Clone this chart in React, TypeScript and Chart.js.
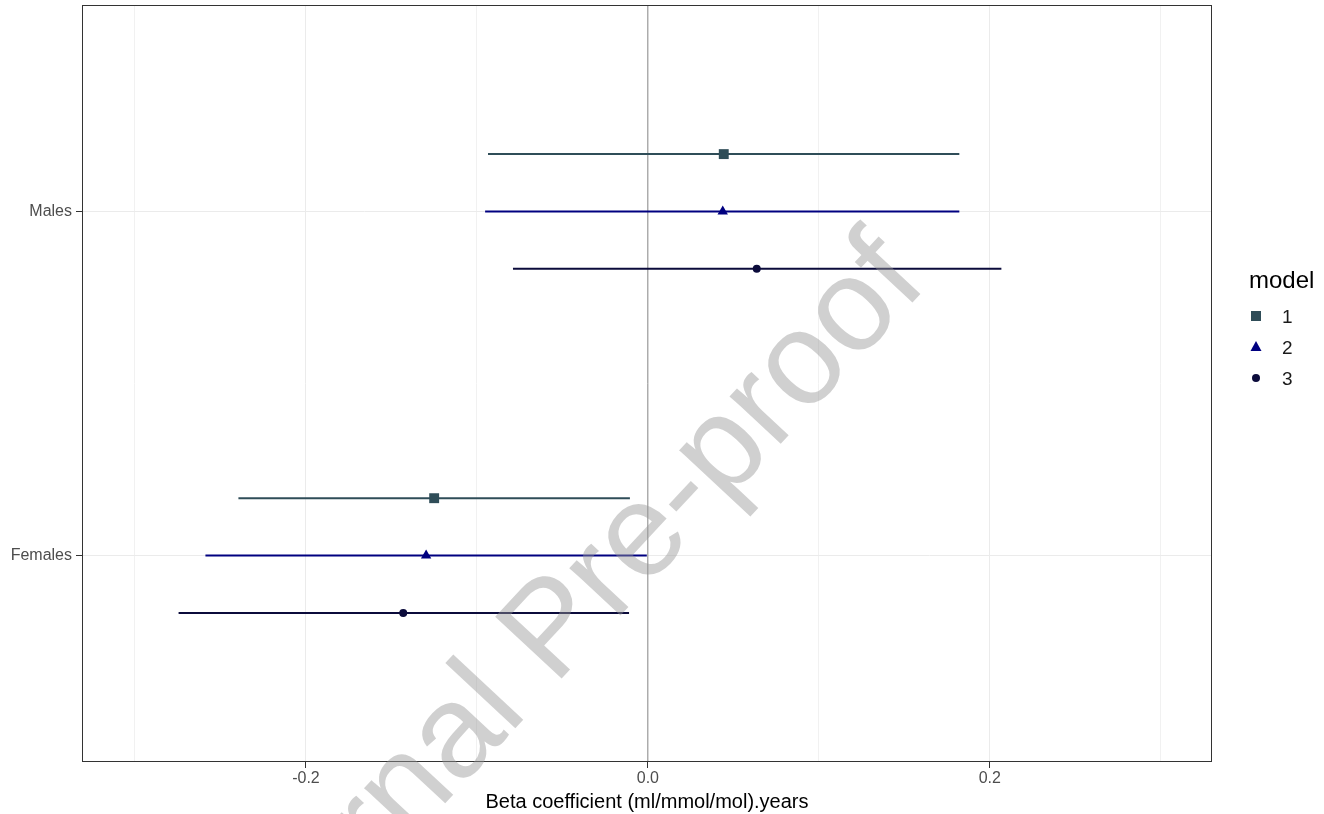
import React, { useEffect, useRef } from "react";
import { Chart, registerables } from "chart.js";

Chart.register(...registerables);

// ---- data ----
const groups = ["Males", "Females"];
const groupPos = [2, 1];
const models = ["1", "2", "3"];
const modelColors = ["#2f4d58", "#000080", "#0b0b3b"];
const modelShapes = ["rect", "triangle", "circle"];
const modelRadius = [7, 6, 4];
const modelDodge = [1 / 6, 0, -1 / 6];

const est1 = [0.0444, -0.125];
const lo1 = [-0.0935, -0.2395];
const hi1 = [0.1822, -0.0105];

const est2 = [0.0438, -0.1297];
const lo2 = [-0.0952, -0.2588];
const hi2 = [0.1822, -0.0006];

const est3 = [0.0637, -0.1431];
const lo3 = [-0.0789, -0.2745];
const hi3 = [0.2068, -0.011];

const xTicks = [-0.3, -0.2, -0.1, 0, 0.1, 0.2, 0.3];
const xLabelled = [-0.2, 0, 0.2];
const xTitle = "Beta coefficient (ml/mmol/mol).years";
const legendTitle = "model";
const watermark = "Journal Pre-proof";

const FONT = "'Liberation Sans', Arial, Helvetica, sans-serif";

function drawMarker(ctx: CanvasRenderingContext2D, shape: string, x: number, y: number) {
  ctx.beginPath();
  if (shape === "rect") {
    ctx.rect(x - 5, y - 5, 10, 10);
  } else if (shape === "triangle") {
    ctx.moveTo(x, y - 6);
    ctx.lineTo(x + 5.5, y + 4);
    ctx.lineTo(x - 5.5, y + 4);
    ctx.closePath();
  } else {
    ctx.arc(x, y, 4, 0, Math.PI * 2);
  }
  ctx.fill();
}

export default function App() {
  const ref = useRef<HTMLCanvasElement | null>(null);

  useEffect(() => {
    const canvas = ref.current;
    if (!canvas) return;

    const ests = [est1, est2, est3];
    const los = [lo1, lo2, lo3];
    const his = [hi1, hi2, hi3];

    const datasets: any[] = [];
    datasets.push({
      type: "line",
      data: [
        { x: 0, y: 0.4 },
        { x: 0, y: 2.6 },
      ],
      borderColor: "#8c8c8c",
      borderWidth: 1,
      pointRadius: 0,
      order: 10,
    });
    models.forEach((m, mi) => {
      groups.forEach((g, gi) => {
        const y = groupPos[gi] + modelDodge[mi];
        datasets.push({
          type: "line",
          data: [
            { x: los[mi][gi], y },
            { x: his[mi][gi], y },
          ],
          borderColor: modelColors[mi],
          borderWidth: 2,
          pointRadius: 0,
          order: 5,
        });
      });
    });
    models.forEach((m, mi) => {
      datasets.push({
        type: "scatter",
        label: m,
        data: groups.map((g, gi) => ({ x: ests[mi][gi], y: groupPos[gi] + modelDodge[mi] })),
        backgroundColor: modelColors[mi],
        borderColor: modelColors[mi],
        borderWidth: 0,
        pointStyle: modelShapes[mi],
        pointRadius: modelRadius[mi],
        order: 1,
      });
    });

    const frame = {
      id: "frame",
      afterDatasetsDraw(chart: any) {
        const { ctx, chartArea: a } = chart;
        ctx.save();
        ctx.strokeStyle = "#333333";
        ctx.lineWidth = 1;
        ctx.strokeRect(a.left + 0.5, a.top + 0.5, a.right - a.left - 1, a.bottom - a.top - 1);
        ctx.restore();
      },
      afterDraw(chart: any) {
        const { ctx } = chart;
        ctx.save();
        // canvas is shifted up by 2px; compensate for page coordinates
        ctx.translate(0, 2);
        ctx.fillStyle = "#000000";
        ctx.font = `24px ${FONT}`;
        ctx.textAlign = "left";
        ctx.textBaseline = "middle";
        ctx.fillText(legendTitle, 1249, 281);
        const ys = [316, 347, 378];
        models.forEach((m, mi) => {
          ctx.fillStyle = modelColors[mi];
          drawMarker(ctx, modelShapes[mi], 1256, ys[mi]);
          ctx.fillStyle = "#1a1a1a";
          ctx.font = `19px ${FONT}`;
          ctx.fillText(m, 1282, ys[mi] + 2);
        });
        // watermark
        ctx.translate(234, 1030);
        ctx.rotate((-47 * Math.PI) / 180);
        ctx.font = `132px ${FONT}`;
        ctx.fillStyle = "rgba(150,150,150,0.45)";
        ctx.textAlign = "left";
        ctx.textBaseline = "alphabetic";
        ctx.fillText(watermark, 0, 0);
        ctx.restore();
      },
    };

    const chart = new Chart(canvas, {
      type: "scatter",
      data: { datasets },
      plugins: [frame],
      options: {
        animation: false,
        responsive: false,
        layout: { padding: { top: 3, right: 112, left: 0, bottom: 0 } },
        plugins: { legend: { display: false }, tooltip: { enabled: false } },
        scales: {
          x: {
            type: "linear",
            min: -0.331,
            max: 0.33,
            afterBuildTicks: (s: any) => {
              s.ticks = xTicks.map((v) => ({ value: v }));
            },
            afterFit: (s: any) => {
              s.height = 52;
              s.paddingLeft = 0;
              s.paddingRight = 0;
            },
            grid: {
              color: (c: any) => (xLabelled.some((v) => Math.abs(v - c.tick?.value) < 1e-9) ? "#ebebeb" : "#f1f1f1"),
              lineWidth: 1,
              tickLength: 6,
              tickColor: (c: any) => (xLabelled.some((v) => Math.abs(v - c.tick?.value) < 1e-9) ? "#333333" : "rgba(0,0,0,0)"),
            },
            border: { display: false },
            ticks: {
              padding: 1,
              color: "#4d4d4d",
              font: { family: FONT, size: 16 },
              callback: (v: any) => {
                const n = Number(v);
                if (!xLabelled.some((t) => Math.abs(t - n) < 1e-9)) return "";
                return Math.abs(n) < 1e-9 ? "0.0" : n.toFixed(1);
              },
            },
            title: {
              display: true,
              text: xTitle,
              color: "#000000",
              font: { family: FONT, size: 20 },
              padding: { top: 0, bottom: 0 },
            },
          },
          y: {
            type: "linear",
            min: 0.4,
            max: 2.6,
            afterBuildTicks: (s: any) => {
              s.ticks = groupPos.map((v) => ({ value: v }));
            },
            afterFit: (s: any) => {
              s.width = 82;
              s.paddingTop = 0;
              s.paddingBottom = 0;
            },
            grid: { color: "#ebebeb", lineWidth: 1, tickLength: 6, tickColor: "#333333" },
            border: { display: false },
            ticks: {
              padding: 4,
              color: "#4d4d4d",
              font: { family: FONT, size: 16 },
              callback: (v: any) => {
                const i = groupPos.indexOf(Number(v));
                return i >= 0 ? groups[i] : "";
              },
            },
          },
        },
      } as any,
    });

    return () => chart.destroy();
  }, []);

  return (
    <div style={{ position: "absolute", left: 0, top: -2, width: 1324, height: 816, background: "#ffffff" }}>
      <canvas ref={ref} width={1324} height={816} style={{ display: "block" }} />
    </div>
  );
}
